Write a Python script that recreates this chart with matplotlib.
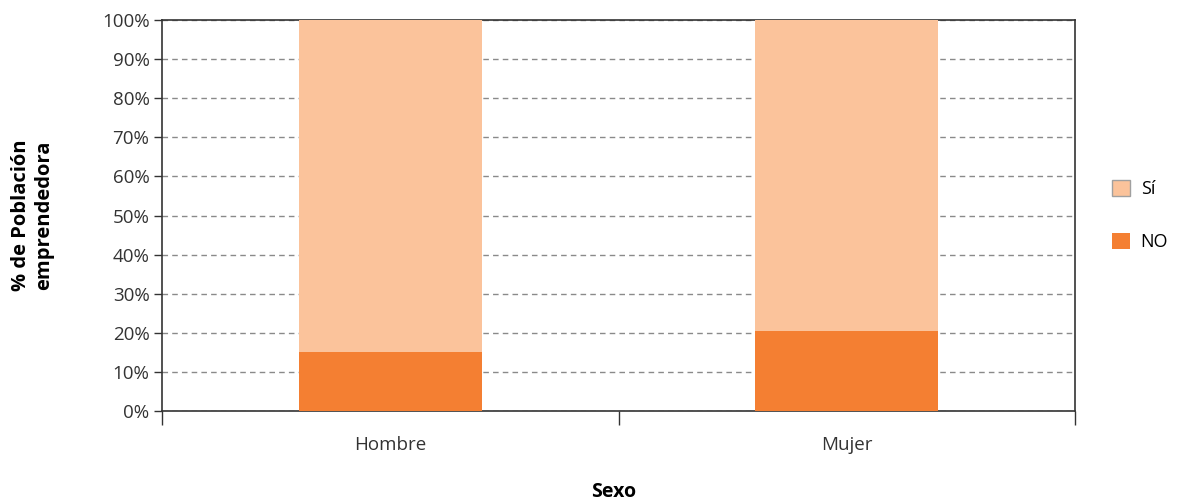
import matplotlib
matplotlib.use('Agg')
import matplotlib.pyplot as plt
from matplotlib.patches import Patch
from matplotlib.ticker import FixedLocator

plt.rcParams['font.family'] = ['Open Sans', 'DejaVu Sans']

categorias = ['Hombre', 'Mujer']
no_vals = [15.0, 20.4]
si_vals = [100 - v for v in no_vals]

col_si = '#fbc39b'
col_no = '#f47f32'

fig = plt.figure(figsize=(11.78, 5.01), dpi=100)
ax = fig.add_axes([0.1375, 0.1796, 0.7751, 0.7804])

x = range(len(categorias))
ax.bar(x, no_vals, width=0.40, color=col_no, zorder=3)
ax.bar(x, si_vals, width=0.40, bottom=no_vals, color=col_si, zorder=3)

ax.set_xlim(-0.5, 1.5)
ax.set_ylim(0, 100)
ax.set_yticks(range(0, 101, 10))
ax.set_yticklabels([f'{v}%' for v in range(0, 101, 10)], fontsize=13.5, color='#333333')
ax.set_xticks(list(x))
ax.set_xticklabels(categorias, fontsize=13.5, color='#333333')
ax.tick_params(axis='x', which='major', length=0, pad=18)
ax.xaxis.set_minor_locator(FixedLocator([-0.5, 0.5, 1.5]))
ax.tick_params(axis='x', which='minor', length=10, width=1, color='#333333')
ax.tick_params(axis='y', length=6, width=1, color='#333333', pad=3)

ax.yaxis.grid(True, linestyle=(0, (4, 3)), color='#8a8a8a', linewidth=1, zorder=0)
for s in ax.spines.values():
    s.set_color('#333333')
    s.set_linewidth(1.2)

fig.text(0.521, 0.018, 'Sexo', fontsize=14, fontweight='bold', ha='center', va='center')
fig.text(0.028, 0.57, '% de Población\nemprendedora', rotation=90, fontsize=14.5,
         fontweight='bold', ha='center', va='center', multialignment='center')

handles = [Patch(facecolor=col_si, edgecolor='#a0a0a0', label='Sí'),
           Patch(facecolor=col_no, edgecolor='none', label='NO')]
fig.legend(handles=handles, loc='center left', bbox_to_anchor=(0.93, 0.57),
           frameon=False, fontsize=13, handlelength=1.0, handleheight=1.0,
           labelspacing=1.9, handletextpad=0.6)

fig.savefig('out.png', dpi=100)
